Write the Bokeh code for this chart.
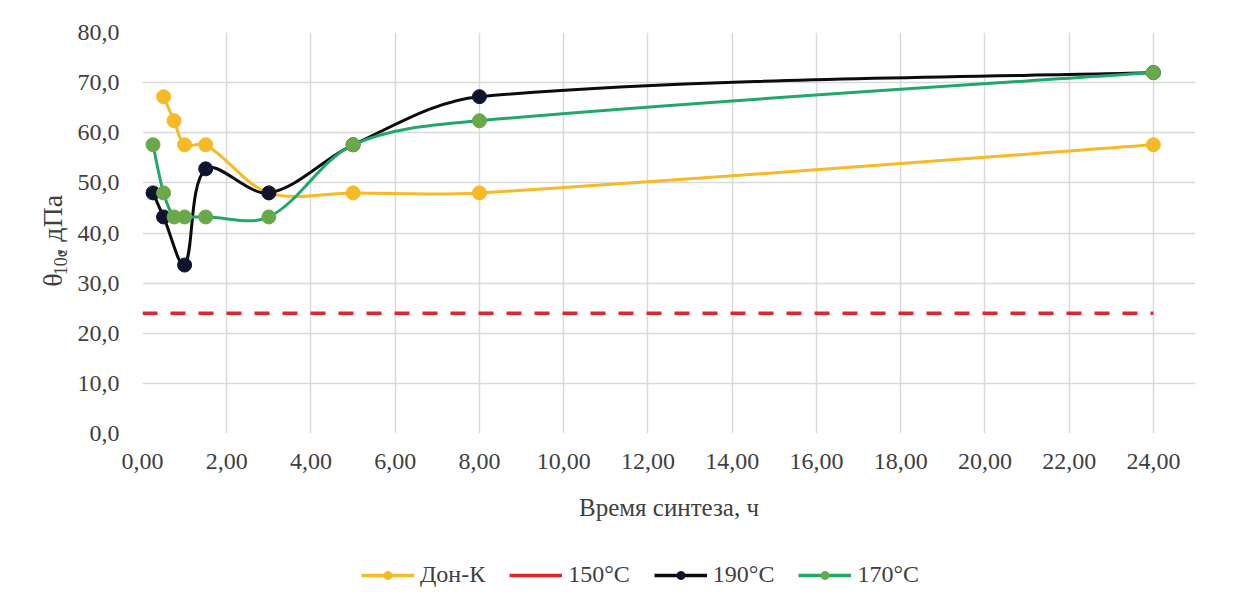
from math import pi
from bokeh.plotting import figure
from bokeh.layouts import column, row
from bokeh.models import Range1d, FixedTicker, Legend, LegendItem, Label, ColumnDataSource
from bokeh.embed import file_html
from bokeh.resources import INLINE

# ---- data ----
don_x = [0.5, 0.75, 1.0, 1.5, 3.0, 5.0, 8.0, 24.0]
don_y = [67.2, 62.4, 57.6, 57.6, 48.0, 48.0, 48.0, 57.6]
t150_x = [0.0, 24.0]
t150_y = [24.0, 24.0]
t190_x = [0.25, 0.5, 1.0, 1.5, 3.0, 5.0, 8.0, 24.0]
t190_y = [48.0, 43.2, 33.6, 52.8, 48.0, 57.6, 67.2, 72.0]
t170_x = [0.25, 0.5, 0.75, 1.0, 1.5, 3.0, 5.0, 8.0, 24.0]
t170_y = [57.6, 48.0, 43.2, 43.2, 43.2, 43.2, 57.6, 62.4, 72.0]

series_names = ["Дон-К", "150°C", "190°C", "170°C"]
x_ticks = [0, 2, 4, 6, 8, 10, 12, 14, 16, 18, 20, 22, 24]
x_tick_labels = ["0,00", "2,00", "4,00", "6,00", "8,00", "10,00", "12,00", "14,00",
                 "16,00", "18,00", "20,00", "22,00", "24,00"]
y_ticks = [0, 10, 20, 30, 40, 50, 60, 70, 80]
y_tick_labels = ["0,0", "10,0", "20,0", "30,0", "40,0", "50,0", "60,0", "70,0", "80,0"]
x_title = "Время синтеза, ч"
y_title_parts = ["θ", "10c", ", дПа"]

FONT = "Liberation Serif"
TXT = "#404040"
YELLOW = "#F7B924"
RED = "#E0262B"
BLACK_LINE = "#0B0B12"
BLACK_MK = "#0E1430"
GREEN_LINE = "#1FA86A"
GREEN_MK = "#6AA94A"

# layout (pixels)
TW = 74            # width of the y-title strip
FW, FH = 1059, 401 # plot frame
BL, BR, BT, BB = 62, 40, 32, 97
PW, PH = FW + BL + BR, FH + BT + BB
LH = 58            # legend strip height
XMAX, YMAX = 25.0, 80.0
KX, KY = FW / XMAX, FH / YMAX   # pixels per data unit


def smooth(xs, ys):
    """Excel-like smoothed line: Bezier segments, chord-length scaled control points (pixel space)."""
    P = [(x * KX, y * KY) for x, y in zip(xs, ys)]
    n = len(P)
    dist = lambda a, b: ((a[0] - b[0]) ** 2 + (a[1] - b[1]) ** 2) ** 0.5
    d = dict(x0=[], y0=[], x1=[], y1=[], cx0=[], cy0=[], cx1=[], cy1=[])
    for i in range(n - 1):
        p0 = P[i - 1] if i > 0 else P[i]
        p1, p2 = P[i], P[i + 1]
        p3 = P[i + 2] if i + 2 < n else P[i + 1]
        d01, d12, d23 = dist(p0, p1), dist(p1, p2), dist(p2, p3)
        f1 = d12 / (d01 + d12) / 3.0 if d01 > 0 else 1 / 6.0
        f2 = d12 / (d12 + d23) / 3.0 if d23 > 0 else 1 / 6.0
        c1 = (p1[0] + (p2[0] - p0[0]) * f1, p1[1] + (p2[1] - p0[1]) * f1)
        c2 = (p2[0] - (p3[0] - p1[0]) * f2, p2[1] - (p3[1] - p1[1]) * f2)
        d["x0"].append(p1[0] / KX); d["y0"].append(p1[1] / KY)
        d["x1"].append(p2[0] / KX); d["y1"].append(p2[1] / KY)
        d["cx0"].append(c1[0] / KX); d["cy0"].append(c1[1] / KY)
        d["cx1"].append(c2[0] / KX); d["cy1"].append(c2[1] / KY)
    return ColumnDataSource(d)


def bare(fig):
    fig.outline_line_color = None
    fig.background_fill_color = "white"
    fig.border_fill_color = "white"
    fig.min_border = 0
    fig.xgrid.visible = False
    fig.ygrid.visible = False
    return fig


# ---------------- main plot ----------------
p = figure(width=PW, height=PH, output_backend="svg", toolbar_location=None,
           x_range=Range1d(0, XMAX), y_range=Range1d(0, YMAX),
           min_border_left=BL, min_border_right=BR, min_border_top=BT, min_border_bottom=BB)
p.background_fill_color = "white"
p.border_fill_color = "white"
p.outline_line_color = None

for ax in (p.xaxis[0], p.yaxis[0]):
    ax.axis_line_color = None
    ax.major_tick_line_color = None
    ax.minor_tick_line_color = None
    ax.major_label_text_font = FONT
    ax.major_label_text_font_size = "24px"
    ax.major_label_text_color = TXT

p.xaxis.ticker = FixedTicker(ticks=x_ticks)
p.yaxis.ticker = FixedTicker(ticks=y_ticks)
p.xaxis.major_label_overrides = dict(zip(x_ticks, x_tick_labels))
p.yaxis.major_label_overrides = dict(zip(y_ticks, y_tick_labels))
p.xaxis.major_label_standoff = 14
p.yaxis.major_label_standoff = 17
p.xaxis.axis_label = x_title
p.xaxis.axis_label_text_font = FONT
p.xaxis.axis_label_text_font_size = "25px"
p.xaxis.axis_label_text_font_style = "normal"
p.xaxis.axis_label_text_color = TXT
p.xaxis.axis_label_standoff = 22

p.xgrid.ticker = FixedTicker(ticks=x_ticks)
p.ygrid.ticker = FixedTicker(ticks=y_ticks)
p.grid.grid_line_color = "#D9D9D9"
p.grid.grid_line_width = 1.5

p.line(t150_x, t150_y, line_color=RED, line_width=3.5, line_dash="15 13")

p.bezier(x0="x0", y0="y0", x1="x1", y1="y1", cx0="cx0", cy0="cy0", cx1="cx1", cy1="cy1",
         source=smooth(don_x, don_y), line_color=YELLOW, line_width=3)
p.scatter(don_x, don_y, size=14, fill_color=YELLOW, line_color=YELLOW)

p.bezier(x0="x0", y0="y0", x1="x1", y1="y1", cx0="cx0", cy0="cy0", cx1="cx1", cy1="cy1",
         source=smooth(t190_x, t190_y), line_color=BLACK_LINE, line_width=3)
p.scatter(t190_x, t190_y, size=14, fill_color=BLACK_MK, line_color=BLACK_MK)

p.bezier(x0="x0", y0="y0", x1="x1", y1="y1", cx0="cx0", cy0="cy0", cx1="cx1", cy1="cy1",
         source=smooth(t170_x, t170_y), line_color=GREEN_LINE, line_width=3)
p.scatter(t170_x, t170_y, size=14, fill_color=GREEN_MK, line_color=GREEN_MK)

# ---------------- y-axis title strip ----------------
t = bare(figure(width=TW, height=PH, output_backend="svg", toolbar_location=None,
                x_range=Range1d(0, TW), y_range=Range1d(0, PH),
                x_axis_type=None, y_axis_type=None))
# (empirically calibrated anchor positions, strip pixel units)
base_y = PH - (344 - 8)
cx = 60 - 8
t.add_layout(Label(x=cx, y=base_y, text=y_title_parts[0], angle=pi / 2, text_font=FONT,
                   text_font_size="28px", text_color=TXT, text_align="left", text_baseline="middle"))
t.add_layout(Label(x=cx + 8, y=base_y + 15, text=y_title_parts[1], angle=pi / 2, text_font=FONT,
                   text_font_size="18px", text_color=TXT, text_align="left", text_baseline="middle"))
t.add_layout(Label(x=cx, y=base_y + 41, text=y_title_parts[2], angle=pi / 2, text_font=FONT,
                   text_font_size="28px", text_color=TXT, text_align="left", text_baseline="middle"))

# ---------------- legend strip ----------------
lf = bare(figure(width=TW + PW, height=LH, output_backend="svg", toolbar_location=None,
                 x_range=Range1d(0, 1), y_range=Range1d(0, 1),
                 x_axis_type=None, y_axis_type=None))
# proxy glyphs for the legend keys (kept outside the visible range)
px, py = [-5, -4], [-5, -5]
lg_y_l = lf.line(px, py, line_color=YELLOW, line_width=3.5)
lg_y_m = lf.scatter(px, py, size=12, fill_color=YELLOW, line_color=YELLOW)
lg_r_l = lf.line(px, py, line_color=RED, line_width=3.5)
lg_b_l = lf.line(px, py, line_color=BLACK_LINE, line_width=3.5)
lg_b_m = lf.scatter(px, py, size=12, fill_color=BLACK_MK, line_color=BLACK_MK)
lg_g_l = lf.line(px, py, line_color=GREEN_LINE, line_width=3.5)
lg_g_m = lf.scatter(px, py, size=12, fill_color=GREEN_MK, line_color=GREEN_MK)

legend = Legend(items=[
    LegendItem(label=series_names[0], renderers=[lg_y_l, lg_y_m]),
    LegendItem(label=series_names[1], renderers=[lg_r_l]),
    LegendItem(label=series_names[2], renderers=[lg_b_l, lg_b_m]),
    LegendItem(label=series_names[3], renderers=[lg_g_l, lg_g_m]),
], orientation="horizontal", location=(361, 0))
legend.glyph_width = 53
legend.glyph_height = 20
legend.label_standoff = 6
legend.spacing = 24
legend.padding = 2
legend.margin = 0
legend.border_line_color = None
legend.background_fill_alpha = 0
legend.label_text_font = FONT
legend.label_text_font_size = "24px"
legend.label_text_color = TXT
lf.add_layout(legend, "center")

layout = column(row(t, p, spacing=0), lf, spacing=0)
open("out.html", "w").write(file_html(layout, INLINE))
